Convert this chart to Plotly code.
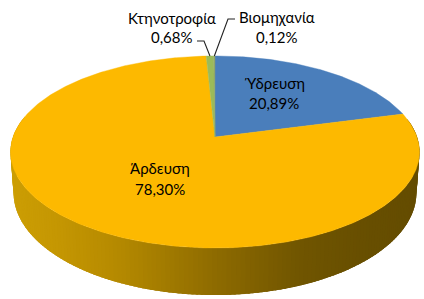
import numpy as np
import plotly.graph_objects as go

categories = ["Ύδρευση", "Άρδευση", "Κτηνοτροφία", "Βιομηχανία"]
values = [20.89, 78.30, 0.68, 0.12]
colors = ["#4A7EBB", "#FDB900", "#9BBB59", "#8FA66A"]

# projection of the tilted disc (perspective) into pixel-like axis units
CX, CY, A, B, K, DEPTH, SHRINK = 215.0, 137.0, 202.0, 93.7, 0.156, 39.7, 0.985


def top(theta):
    x, y = np.sin(theta), np.cos(theta)
    w = 1 + K * y
    return CX + A * x / w, CY - B * y / w


def bottom(theta):
    x, y = np.sin(theta), np.cos(theta)
    w = 1 + K * y
    return CX + SHRINK * A * x / w, CY + (DEPTH - B * y) / w


def side_shade(px):
    stops_x = [10, 60, 120, 215, 300, 360, 420]
    r = np.interp(px, stops_x, [204, 196, 180, 142, 112, 104, 100])
    g = np.interp(px, stops_x, [158, 150, 137, 107, 85, 79, 76])
    b = np.interp(px, stops_x, [4, 2, 0, 0, 0, 0, 0])
    return f"rgb({r:.0f},{g:.0f},{b:.0f})"


fig = go.Figure()
edges = 2 * np.pi * np.concatenate([[0], np.cumsum(values)]) / sum(values)

# side wall: overlapping strips, drawn one way round so that seams stay hidden
OVERLAP = 0.03
for start, end in zip(edges[:-1], edges[1:]):
    n = max(2, int((end - start) / 0.02))
    ts = np.linspace(start, end, n + 1)
    for t0, t1 in zip(ts[:-1], ts[1:]):
        if np.cos((t0 + t1) / 2) > 0.2:
            continue
        t1x = t1 + OVERLAP
        x0, y0 = top(t0)
        x1, y1 = top(t1x)
        x2, y2 = bottom(t1x)
        x3, y3 = bottom(t0)
        c = side_shade((x0 + top(t1)[0]) / 2)
        fig.add_trace(go.Scatter(x=[x0, x1, x2, x3, x0], y=[y0, y1, y2, y3, y0],
                                 mode="lines", fill="toself", fillcolor=c,
                                 line=dict(color=c, width=0), hoverinfo="skip", showlegend=False))

# top face wedges
for name, color, start, end in zip(categories, colors, edges[:-1], edges[1:]):
    ts = np.linspace(start, end, max(3, int((end - start) / 0.01)))
    xs, ys = top(ts)
    fig.add_trace(go.Scatter(x=np.r_[CX, xs, CX], y=np.r_[CY, ys, CY], mode="lines",
                             fill="toself", fillcolor=color, line=dict(color=color, width=0.4),
                             name=name, hoverinfo="skip", showlegend=False))

# leader lines for the two thin slices
mids = (edges[:-1] + edges[1:]) / 2
leaders = {2: ([204, 197], [41, 41]), 3: ([228, 235], [19, 19])}
for i, (lx, ly) in leaders.items():
    sx, sy = top(mids[i])
    fig.add_trace(go.Scatter(x=[sx] + lx, y=[sy] + ly, mode="lines",
                             line=dict(color="#222222", width=1.1), hoverinfo="skip", showlegend=False))

# labels
label_pos = [(274, 83, 103), (160, 168, 189), (172, 18, 37), (277, 17, 37)]
for name, v, (lx, y1, y2) in zip(categories, values, label_pos):
    for txt, yy in ((name, y1), (f"{v:.2f}%".replace(".", ","), y2)):
        fig.add_annotation(x=lx, y=yy, text=txt, showarrow=False, xanchor="center", yanchor="middle",
                           font=dict(family="Lato, Carlito, 'Open Sans', sans-serif", size=15, color="#000000"))

fig.update_layout(width=424, height=299, margin=dict(l=0, r=0, t=0, b=0),
                  paper_bgcolor="white", plot_bgcolor="white",
                  xaxis=dict(range=[0, 424], visible=False, fixedrange=True),
                  yaxis=dict(range=[299, 0], visible=False, fixedrange=True))
fig.write_html("out.html", config={"displayModeBar": False},
               post_script="document.body.style.margin='0';document.documentElement.style.overflow='hidden';")
